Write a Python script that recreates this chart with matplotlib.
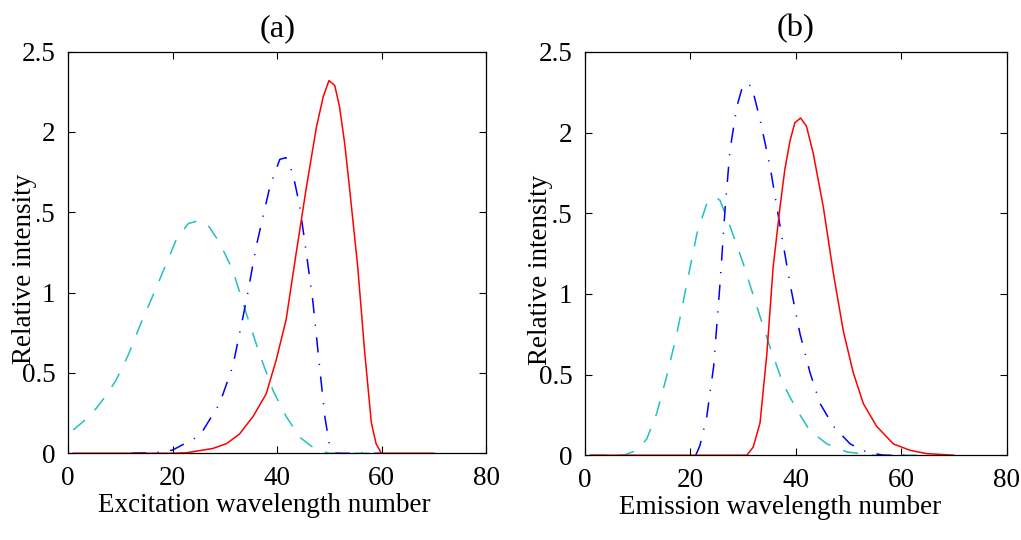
import numpy as np
import matplotlib.pyplot as plt
from matplotlib.ticker import FormatStrFormatter

plt.rcParams['font.family'] = ['Liberation Serif', 'DejaVu Serif']
plt.rcParams['font.size'] = 19.5

# (a) excitation profiles
exc_cyan_x = [1, 3, 5.4, 7.3, 9.2, 11.5, 13.7, 17, 20.7, 23, 25.2, 27, 29, 31.5, 34.1, 36.6, 39.2, 41.7, 44.3, 47.5, 50, 55, 60]
exc_cyan_y = [0.145, 0.2, 0.28, 0.36, 0.456, 0.61, 0.79, 1.04, 1.33, 1.43, 1.45, 1.41, 1.31, 1.14, 0.87, 0.62, 0.39, 0.23, 0.10, 0.02, 0.0, 0.0, 0.0]

exc_blue_x = [12, 17, 20, 25.2, 29, 31.5, 34.1, 36, 38.6, 40.5, 41.7, 43, 44.3, 45.6, 46.8, 48.1, 49.1, 50, 51, 55, 60]
exc_blue_y = [0.0, 0.005, 0.02, 0.11, 0.31, 0.54, 0.95, 1.29, 1.66, 1.83, 1.84, 1.74, 1.54, 1.24, 0.95, 0.54, 0.23, 0.05, 0.0, 0.0, 0.0]

exc_red_x = [1, 10, 20, 22.6, 27.7, 30.3, 32.8, 35.4, 37.9, 39.8, 41.7, 43.6, 45.6, 47.5, 48.8, 49.9, 51,
             51.9, 52.9, 53.8, 55.4, 56.7, 58, 58.9, 59.9, 62, 66, 70]
exc_red_y = [0.0, 0.0, 0.0, 0.003, 0.03, 0.06, 0.12, 0.23, 0.37, 0.58, 0.83, 1.24, 1.66, 2.03, 2.22, 2.32, 2.29,
             2.16, 1.93, 1.66, 1.16, 0.64, 0.19, 0.06, 0.0, 0.0, 0.0, 0.0]

# (b) emission profiles
emi_cyan_x = [1, 5, 7.3, 9.8, 11.7, 13.6, 15.5, 17.4, 19.3, 21.2, 23.1, 24.7, 25.6, 27.5, 30, 32.6, 35.1, 37.6,
              40.2, 42.7, 45.9, 49.7, 54.7, 60, 65]
emi_cyan_y = [0.0, 0.0, 0.0, 0.03, 0.10, 0.26, 0.49, 0.75, 1.06, 1.37, 1.56, 1.60, 1.58, 1.42, 1.19, 0.92, 0.67,
              0.44, 0.28, 0.15, 0.07, 0.02, 0.0, 0.0, 0.0]

emi_blue_x = [21, 21.8, 23.1, 24.4, 25.6, 26.6, 27.5, 28.8, 30, 31.6, 33.2, 35.1, 37, 38.9, 40.8, 42.7, 44.6,
              47.1, 50.3, 53.4, 56.6, 60, 62]
emi_blue_y = [0.0, 0.06, 0.24, 0.55, 1.06, 1.54, 1.89, 2.16, 2.30, 2.29, 2.08, 1.79, 1.42, 1.06, 0.75, 0.51, 0.32,
              0.18, 0.07, 0.02, 0.0, 0.0, 0.0]

emi_red_x = [1, 10, 20, 30.7, 31.9, 33.2, 34.5, 35.7, 37, 37.9, 38.9, 39.8, 40.9, 42, 43.3, 45.2, 47.1, 49,
             50.9, 52.8, 55.3, 58.5, 61.7, 64.8, 70]
emi_red_y = [0.0, 0.0, 0.0, 0.0, 0.05, 0.20, 0.63, 1.17, 1.54, 1.77, 1.95, 2.06, 2.09, 2.04, 1.87, 1.54, 1.13, 0.77,
             0.51, 0.32, 0.18, 0.07, 0.03, 0.01, 0.0]

cyan = '#22c0c0'
blue = '#0000ff'
red = '#ff0000'

fig = plt.figure(figsize=(10.21, 5.4), dpi=100)
ax1 = fig.add_axes([0.0666, 0.1606, 0.4098, 0.7437])
ax2 = fig.add_axes([0.573, 0.157, 0.413, 0.747])

panels = [
    (ax1, '(a)', 'Excitation wavelength number', 0.470,
     (exc_cyan_x, exc_cyan_y), (exc_blue_x, exc_blue_y), (exc_red_x, exc_red_y)),
    (ax2, '(b)', 'Emission wavelength number', 0.4636,
     (emi_cyan_x, emi_cyan_y), (emi_blue_x, emi_blue_y), (emi_red_x, emi_red_y)),
]

for ax, title, xlabel, xlab_pos, c, b, r in panels:
    ax.plot(c[0], c[1], color=cyan, lw=1.1, dashes=(10, 9))
    ax.plot(b[0], b[1], color=blue, lw=1.1, dashes=(10, 7.5, 0.8, 7.5))
    ax.plot(r[0], r[1], color=red, lw=1.1)

    ax.set_xlim(0, 80)
    ax.set_ylim(0, 2.5)
    ax.set_xticks([0, 20, 40, 60, 80])
    ax.set_yticks([0, 0.5, 1, 1.5, 2, 2.5])
    ax.yaxis.set_major_formatter(FormatStrFormatter('%g'))
    ax.tick_params(direction='in', top=True, right=True, length=5, width=0.8)
    ax.tick_params(axis='y', pad=9)
    ax.tick_params(axis='x', pad=9)
    for sp in ax.spines.values():
        sp.set_linewidth(0.9)

    ax.set_title(title, pad=11)
    ax.set_xlabel(xlabel, va='center')
    ax.xaxis.set_label_coords(xlab_pos, -0.129)
    ax.set_ylabel('Relative intensity', va='center',
                  bbox=dict(facecolor='white', edgecolor='none', pad=0))
    ax.yaxis.set_label_coords(-0.105, 0.46)

fig.savefig('out.png', dpi=100)
